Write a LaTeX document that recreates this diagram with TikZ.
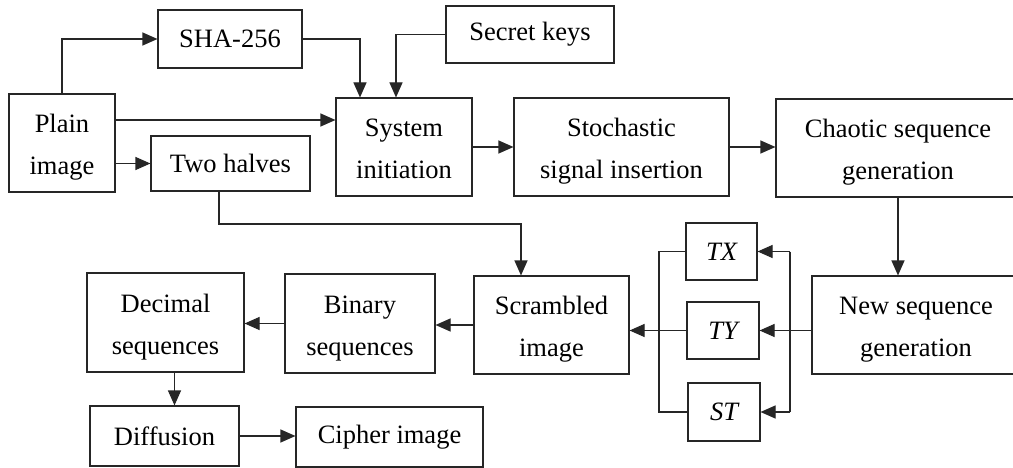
\documentclass[tikz,border=0pt]{standalone}
\usepackage{fontspec}
\setmainfont{Liberation Serif}
\usetikzlibrary{arrows.meta}
\begin{document}
\begin{tikzpicture}[x=1pt,y=-1pt,
  box/.style={draw=black!85, line width=1.1pt, rectangle, inner sep=0pt, align=center,
    font=\fontsize{26.5}{42}\selectfont},
  twoline/.style={text height=69pt, text depth=6pt},
  arr/.style={-{Triangle[length=15pt,width=13pt]}, line width=1.1pt, draw=black!85},
  ln/.style={line width=1.1pt, draw=black!85}]
\useasboundingbox (0,0) rectangle (1013,468);
\fill[white] (0,0) rectangle (1013,468);
% nodes
\node[box, twoline, minimum width=106pt, minimum height=98pt] (plain) at (62,143) {Plain\\image};
\node[box, minimum width=144pt, minimum height=58pt] (sha) at (230,39) {SHA-256};
\node[box, minimum width=168pt, minimum height=57pt] (secret) at (530,34.5) {Secret keys};
\node[box, minimum width=159pt, minimum height=55pt] (two) at (230.5,163.5) {Two halves};
\node[box, twoline, minimum width=136pt, minimum height=98pt] (sys) at (404,147) {System\\initiation};
\node[box, twoline, minimum width=215pt, minimum height=98pt] (stoch) at (621.5,147) {Stochastic\\signal insertion};
\node[box, twoline, minimum width=244pt, minimum height=98pt] (chaotic) at (898,148) {Chaotic sequence\\generation};
\node[box, twoline, minimum width=208pt, minimum height=98pt] (newseq) at (916,325) {New sequence\\generation};
\node[box, twoline, minimum width=155pt, minimum height=98pt] (scram) at (551.5,325) {Scrambled\\image};
\node[box, minimum width=71pt, minimum height=57pt] (tx) at (721.5,251.5) {\itshape TX};
\node[box, minimum width=72pt, minimum height=57pt] (ty) at (723,330.5) {\itshape TY};
\node[box, minimum width=72pt, minimum height=58pt] (st) at (724,412) {\itshape ST};
\node[box, twoline, minimum width=150pt, minimum height=99pt] (binary) at (360,323.5) {Binary\\sequences};
\node[box, twoline, minimum width=157pt, minimum height=99pt] (decimal) at (165.5,322.5) {Decimal\\sequences};
\node[box, minimum width=149pt, minimum height=60pt] (diff) at (164.5,436) {Diffusion};
\node[box, minimum width=187pt, minimum height=60pt] (cipher) at (389.5,437) {Cipher image};
% helper coordinates
\coordinate (p1) at ([yshift=23pt]plain.east);
\coordinate (t1) at ([xshift=-11.5pt]two.south);
\coordinate (k) at (521,224);
\coordinate (rbx) at (790,0);
\coordinate (lbx) at (659,0);
\coordinate (d1) at ([xshift=9pt]decimal.south);
% connectors
\draw[arr] (plain.north) |- (sha.west);
\draw[arr] (sha.east) -| ([xshift=-44pt]sys.north);
\draw[arr] (secret.west) -| ([xshift=-8pt]sys.north);
\draw[arr] (p1) -- (p1 -| sys.west);
\draw[arr] (two.west -| plain.east) -- (two.west);
\draw[arr] (t1) |- (k) -- (k |- scram.north);
\draw[arr] (sys.east) -- (stoch.west);
\draw[arr] (stoch.east) -- (stoch.east -| chaotic.west);
\draw[arr] (chaotic.south) -- (chaotic.south |- newseq.north);
\draw[arr] (ty.east -| newseq.west) -- (ty.east);
\draw[ln] (tx.east -| rbx) -- (st.east -| rbx);
\draw[arr] (tx.east -| rbx) -- (tx.east);
\draw[arr] (st.east -| rbx) -- (st.east);
\draw[ln] (tx.west) -- (tx.west -| lbx) -- (st.west -| lbx) -- (st.west);
\draw[arr] (ty.west) -- (ty.west -| scram.east);
\draw[arr] (scram.west) -- (scram.west -| binary.east);
\draw[arr] (binary.west) -- (binary.west -| decimal.east);
\draw[arr] (d1) -- (d1 |- diff.north);
\draw[arr] (diff.east) -- (diff.east -| cipher.west);
\end{tikzpicture}
\end{document}
